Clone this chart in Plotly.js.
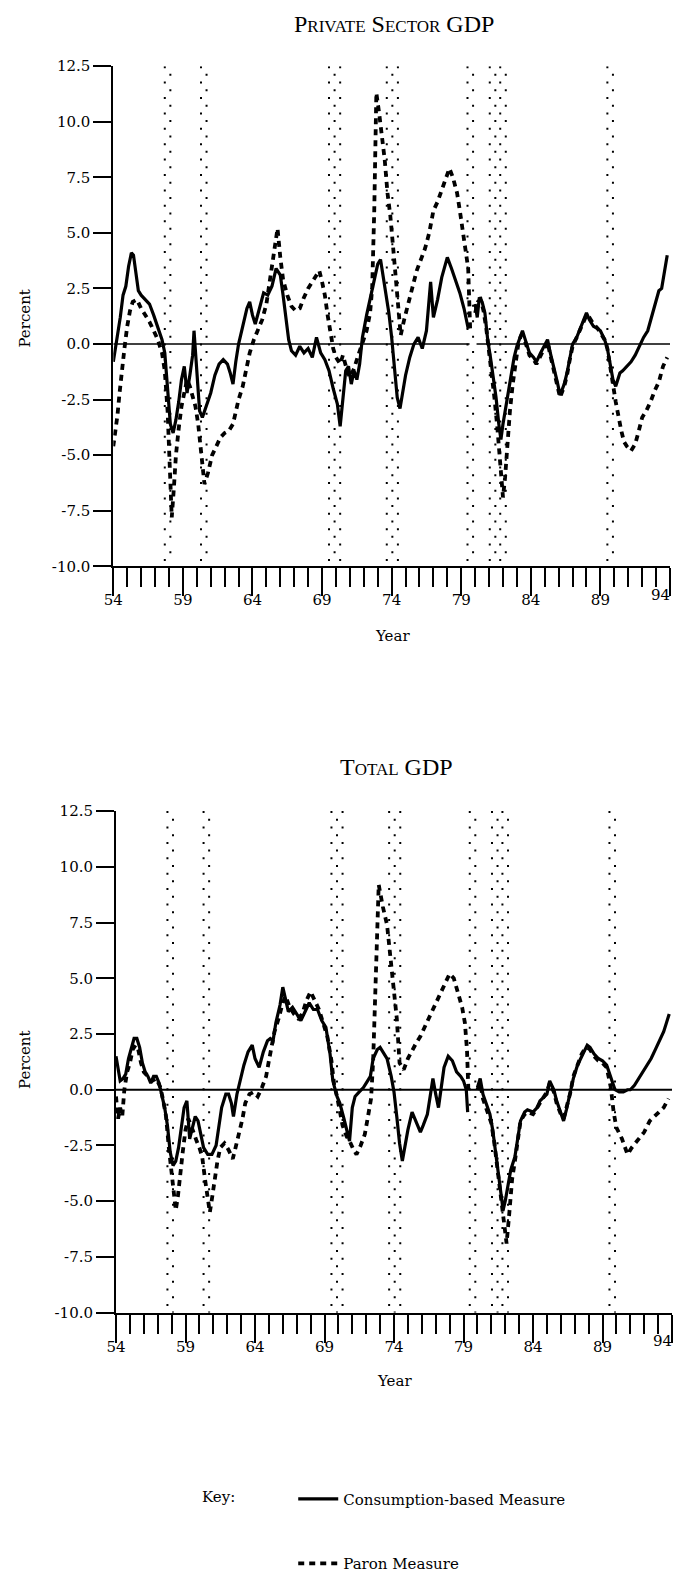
<!DOCTYPE html>
<html>
<head>
<meta charset="utf-8">
<script src="https://cdn.plot.ly/plotly-3.0.1.min.js"></script>
<style>html,body{margin:0;padding:0;background:#fff;}#chart{width:675px;height:1580px;}</style>
</head>
<body>
<div id="chart"></div>
<script>
// ---------- DATA ----------
// Private Sector GDP: consumption-based measure
const privConsX = [54.0,54.15,54.3,54.5,54.7,54.9,55.1,55.3,55.45,55.6,55.8,56.0,56.3,56.6,56.9,57.2,57.5,57.7,57.9,58.1,58.3,58.5,58.7,58.9,59.1,59.3,59.5,59.7,59.8,60.0,60.2,60.4,60.7,61.0,61.3,61.6,61.9,62.2,62.4,62.6,62.8,63.0,63.3,63.6,63.8,64.0,64.2,64.5,64.8,65.1,65.4,65.7,66.0,66.2,66.4,66.6,66.8,67.1,67.4,67.7,68.0,68.3,68.6,68.9,69.2,69.5,69.8,70.1,70.3,70.5,70.7,70.9,71.1,71.3,71.5,71.7,71.9,72.2,72.5,72.8,73.0,73.2,73.4,73.6,73.8,74.0,74.2,74.4,74.6,74.8,75.0,75.3,75.6,75.9,76.2,76.5,76.8,77.0,77.3,77.6,78.0,78.3,78.6,78.9,79.2,79.5,79.8,80.0,80.15,80.3,80.5,80.7,80.9,81.1,81.3,81.5,81.7,81.85,82.0,82.2,82.4,82.6,82.8,83.0,83.2,83.4,83.6,83.9,84.2,84.4,84.7,85.0,85.2,85.4,85.6,85.9,86.1,86.4,86.6,86.8,87.0,87.3,87.5,87.8,88.0,88.2,88.5,88.8,89.0,89.3,89.5,89.7,89.9,90.1,90.4,90.6,90.9,91.2,91.5,91.8,92.1,92.4,92.7,92.9,93.2,93.4,93.6,93.8];
const privConsY = [-0.8,-0.2,0.3,1.2,2.2,2.6,3.5,4.1,4.0,3.2,2.4,2.2,2.0,1.8,1.3,0.8,0.2,-0.4,-2.0,-3.6,-4.0,-3.4,-2.6,-1.6,-1.0,-2.2,-1.4,-0.5,0.6,-1.2,-3.0,-3.3,-2.8,-2.2,-1.4,-0.9,-0.7,-0.9,-1.3,-1.8,-0.8,0.0,0.8,1.6,1.9,1.3,0.9,1.6,2.3,2.2,2.6,3.4,3.1,2.2,1.2,0.2,-0.3,-0.5,-0.1,-0.4,-0.2,-0.6,0.3,-0.4,-0.7,-1.2,-2.0,-2.7,-3.7,-2.4,-1.2,-1.0,-1.8,-1.2,-1.6,-0.9,0.3,1.3,2.2,3.0,3.6,3.8,3.0,2.3,1.4,0.3,-1.2,-2.4,-2.9,-2.2,-1.4,-0.6,0.0,0.3,-0.2,0.6,2.8,1.2,2.0,3.0,3.9,3.4,2.9,2.3,1.6,0.7,null,1.8,1.2,2.1,1.9,1.4,0.2,-0.6,-1.5,-2.4,-3.6,-4.3,-3.6,-2.8,-2.0,-1.2,-0.6,-0.1,0.3,0.6,0.2,-0.4,-0.6,-0.8,-0.4,0.0,0.2,-0.4,-0.9,-1.7,-2.3,-1.8,-1.3,-0.6,0.0,0.3,0.6,1.1,1.4,1.1,0.8,0.7,0.6,0.2,-0.2,-0.9,-1.6,-1.9,-1.3,-1.2,-1.0,-0.8,-0.5,-0.1,0.3,0.6,1.3,1.8,2.4,2.5,3.2,4.0];

// Private Sector GDP: Paron measure
const privParonX = [54.0,54.15,54.3,54.45,54.6,54.8,55.0,55.2,55.4,55.7,56.0,56.3,56.6,56.9,57.2,57.5,57.7,57.9,58.05,58.2,58.35,58.5,58.7,58.9,59.1,59.3,59.5,59.7,59.9,60.1,60.3,60.55,60.8,61.1,61.4,61.7,62.0,62.3,62.6,62.8,63.0,63.3,63.6,63.8,64.1,64.4,64.7,65.0,65.2,65.4,65.6,65.8,66.0,66.2,66.5,66.8,67.1,67.4,67.7,68.0,68.3,68.6,68.8,69.0,69.2,69.4,69.6,69.8,70.0,70.3,70.5,70.8,71.0,71.3,71.6,71.9,72.2,72.45,72.6,72.75,72.9,73.1,73.3,73.5,73.7,73.9,74.1,74.3,74.5,74.65,74.9,75.2,75.5,75.8,76.1,76.4,76.7,77.0,77.3,77.6,77.9,78.15,78.4,78.7,78.9,79.1,79.3,79.5,79.65,79.8,80.0,80.2,80.4,80.6,80.8,81.0,81.2,81.4,81.6,81.8,82.0,82.15,82.3,82.5,82.7,82.9,83.1,83.3,83.6,83.9,84.2,84.4,84.7,85.0,85.2,85.4,85.6,85.9,86.1,86.4,86.6,86.8,87.0,87.3,87.5,87.8,88.0,88.2,88.5,88.8,89.0,89.3,89.5,89.7,89.9,90.1,90.3,90.5,90.7,90.9,91.2,91.5,91.8,92.0,92.3,92.6,92.9,93.2,93.5,93.8];
const privParonY = [-4.6,-4.0,-3.2,-2.2,-1.2,-0.2,0.8,1.5,1.9,2.0,1.6,1.3,1.0,0.6,0.2,-0.4,-1.2,-3.0,-5.0,-7.8,-6.5,-5.0,-3.8,-2.8,-2.2,-1.6,-1.9,-2.4,-2.8,-3.6,-5.0,-6.3,-5.8,-5.0,-4.6,-4.2,-4.0,-3.9,-3.6,-3.0,-2.5,-1.9,-0.9,-0.4,0.2,0.7,1.1,1.8,2.7,3.5,4.4,5.2,3.9,2.9,2.2,1.7,1.5,1.6,2.1,2.5,2.8,3.1,3.3,2.8,2.2,1.3,0.5,-0.2,-0.6,-0.9,-0.5,-1.2,-1.5,-1.1,-0.5,0.0,0.6,1.4,2.5,6.0,11.3,10.4,9.3,8.3,6.8,5.8,4.4,2.8,1.5,0.4,1.1,1.8,2.6,3.3,3.8,4.3,5.0,6.0,6.4,6.9,7.5,7.9,7.5,6.8,6.0,5.1,4.3,3.4,0.5,null,1.4,1.9,2.0,1.5,0.7,-0.3,-1.3,-2.5,-3.8,-5.2,-6.9,-6.0,-4.5,-3.0,-1.8,-0.8,0.0,0.4,0.1,-0.5,-0.7,-0.9,-0.5,-0.1,0.1,-0.5,-1.0,-1.8,-2.4,-1.9,-1.4,-0.7,-0.1,0.3,0.6,1.0,1.3,1.2,0.9,0.7,0.5,0.2,-0.2,-0.9,-1.8,-2.6,-3.3,-3.9,-4.4,-4.6,-4.8,-4.5,-3.8,-3.3,-3.0,-2.6,-2.1,-1.7,-1.0,-0.6];

// Total GDP: consumption-based measure
const totConsX = [54.0,54.15,54.3,54.5,54.7,54.9,55.1,55.3,55.5,55.7,55.9,56.1,56.3,56.5,56.7,56.9,57.1,57.3,57.5,57.7,57.9,58.1,58.3,58.5,58.7,58.9,59.1,59.3,59.5,59.7,59.9,60.1,60.3,60.6,60.9,61.2,61.4,61.6,61.9,62.1,62.3,62.45,62.7,63.0,63.2,63.5,63.8,64.0,64.3,64.6,64.9,65.1,65.3,65.5,65.8,66.0,66.2,66.4,66.7,67.0,67.3,67.6,67.9,68.2,68.5,68.8,69.1,69.4,69.6,69.9,70.1,70.4,70.6,70.8,71.0,71.2,71.5,71.8,72.0,72.3,72.5,72.8,73.0,73.2,73.5,73.8,74.0,74.2,74.4,74.6,74.8,75.0,75.3,75.5,75.7,75.9,76.1,76.4,76.6,76.8,77.0,77.2,77.4,77.6,77.9,78.2,78.5,78.8,79.0,79.2,79.3,79.6,80.0,80.2,80.4,80.6,80.9,81.1,81.3,81.5,81.7,81.85,82.0,82.2,82.4,82.7,82.9,83.1,83.4,83.6,84.0,84.3,84.5,84.8,85.0,85.2,85.5,85.7,86.0,86.2,86.4,86.7,86.9,87.2,87.5,87.7,87.9,88.1,88.4,88.7,89.0,89.3,89.6,89.9,90.2,90.5,90.8,91.0,91.3,91.6,91.9,92.2,92.5,92.8,93.1,93.4,93.6,93.8];
const totConsY = [1.5,0.9,0.4,0.5,0.7,1.4,1.9,2.3,2.3,1.9,1.2,0.8,0.6,0.3,0.6,0.6,0.3,-0.2,-0.8,-1.6,-2.8,-3.4,-3.2,-2.6,-1.6,-0.8,-0.5,-2.2,-1.7,-1.2,-1.4,-2.0,-2.6,-2.9,-2.9,-2.5,-1.6,-0.8,-0.2,-0.2,-0.6,-1.2,-0.2,0.6,1.1,1.7,2.0,1.4,1.0,1.7,2.2,2.3,2.2,3.0,3.8,4.6,4.0,3.5,3.7,3.4,3.1,3.5,3.9,3.6,3.6,3.1,2.8,1.6,0.4,-0.3,-0.6,-1.3,-1.8,-2.3,-0.8,-0.3,-0.1,0.1,0.3,0.6,1.4,1.8,1.9,1.7,1.4,0.6,-0.1,-1.2,-2.4,-3.2,-2.4,-1.8,-1.0,-1.3,-1.6,-1.9,-1.6,-1.1,-0.3,0.5,-0.2,-0.8,0.1,1.0,1.5,1.3,0.8,0.6,0.4,0.0,-1.0,null,0.1,0.5,-0.2,-0.6,-1.1,-1.8,-2.8,-3.6,-4.8,-5.4,-5.0,-4.3,-3.6,-3.0,-2.2,-1.4,-1.0,-0.9,-1.0,-0.8,-0.5,-0.3,-0.2,0.4,0.0,-0.5,-1.0,-1.4,-0.9,-0.1,0.5,1.1,1.5,1.8,2.0,1.9,1.6,1.4,1.3,1.1,0.5,0.0,-0.1,-0.1,0.0,0.0,0.2,0.5,0.8,1.1,1.4,1.8,2.2,2.6,3.0,3.4];

// Total GDP: Paron measure
const totParonX = [54.0,54.15,54.3,54.45,54.6,54.8,55.0,55.2,55.4,55.6,55.8,56.0,56.3,56.6,56.9,57.2,57.4,57.6,57.8,58.0,58.15,58.3,58.45,58.6,58.8,59.0,59.2,59.4,59.6,59.8,60.0,60.2,60.4,60.6,60.75,60.9,61.1,61.3,61.5,61.8,62.1,62.4,62.6,62.9,63.1,63.3,63.6,63.9,64.2,64.5,64.8,65.0,65.2,65.4,65.7,66.0,66.2,66.5,66.8,67.1,67.4,67.7,68.0,68.3,68.6,68.9,69.2,69.5,69.7,69.9,70.1,70.3,70.6,70.8,71.1,71.3,71.6,71.9,72.1,72.35,72.5,72.6,72.75,72.9,73.2,73.5,73.7,73.9,74.2,74.4,74.7,75.0,75.3,75.6,75.9,76.2,76.5,76.8,77.1,77.4,77.7,78.0,78.3,78.6,78.9,79.1,79.25,79.35,79.6,80.0,80.2,80.4,80.7,81.0,81.2,81.4,81.6,81.8,82.0,82.1,82.3,82.5,82.7,82.9,83.1,83.4,83.6,84.0,84.3,84.5,84.8,85.0,85.2,85.5,85.7,86.0,86.2,86.4,86.7,86.9,87.2,87.5,87.7,87.9,88.1,88.4,88.7,89.0,89.3,89.6,89.8,90.0,90.4,90.8,91.1,91.5,92.0,92.4,92.9,93.4,93.75];
const totParonY = [-0.3,-1.3,-0.8,-1.2,0.0,0.8,1.2,1.8,2.0,1.8,1.2,0.8,0.6,0.4,0.5,0.1,-0.5,-1.2,-2.6,-3.8,-4.6,-5.4,-4.8,-3.8,-2.8,-1.8,-1.3,-1.6,-2.0,-2.3,-2.6,-3.0,-4.0,-5.0,-5.5,-4.9,-4.0,-3.2,-2.6,-2.4,-2.7,-3.1,-2.6,-1.9,-1.3,-0.6,-0.2,-0.1,-0.3,0.1,0.6,1.3,2.0,2.6,3.2,3.9,4.2,3.7,3.4,3.2,3.4,4.0,4.4,4.0,3.6,3.0,2.4,1.3,0.2,-0.3,-0.9,-1.6,-2.1,-2.3,-2.7,-2.9,-2.5,-2.0,-1.3,-0.4,1.3,3.5,5.8,9.2,8.2,7.4,6.2,5.0,3.2,1.2,0.9,1.4,1.8,2.1,2.4,2.8,3.2,3.5,3.9,4.3,4.8,5.2,5.0,4.4,3.7,3.0,1.8,0.0,null,0.0,0.3,-0.4,-0.9,-1.5,-2.3,-3.3,-4.4,-5.6,-6.6,-6.9,-5.5,-4.0,-3.2,-2.2,-1.4,-1.1,-1.0,-1.1,-0.8,-0.6,-0.3,-0.1,0.3,-0.1,-0.6,-1.1,-1.3,-0.8,-0.1,0.6,1.1,1.6,1.8,1.9,1.8,1.5,1.3,1.2,1.0,0.1,-1.0,-1.7,-2.2,-2.9,-2.6,-2.3,-1.9,-1.4,-1.1,-0.8,-0.4];

// Recession marker columns (years), grouped
const recessionGroups = [[57.7,58.1],[60.3,60.7],[69.5,69.9,70.3],[73.65,74.05,74.45],[79.45,79.85],[81.05,81.45,81.8,82.2],[89.5,89.9]];
// Break in the zero line of the top panel (years)
const zeroBreak = [79.6, 80.1];

// Tick labels
const yTickVals = [-10,-7.5,-5,-2.5,0,2.5,5,7.5,10,12.5];
const yTickText = ['-10.0','-7.5','-5.0','-2.5','0.0','2.5','5.0','7.5','10.0','12.5'];
const xTickVals = [54,59,64,69,74,79,84,89,94];
const xTickText = ['54','59','64','69','74','79','84','89','94'];

const panelTitles = ['Private Sector GDP','Total GDP'];
const seriesNames = ['Consumption-based Measure','Paron Measure'];

// ---------- LAYOUT HELPERS ----------
const W = 675, H = 1580;
const px = v => v / W;
const py = v => 1 - v / H;
const Y_MIN = -10, Y_MAX = 12.5, X_MIN = 54, X_MAX = 94;

const tickFont = {family: 'DejaVu Serif', size: 15, color: '#000'};
const labelFont = {family: 'DejaVu Serif', size: 15, color: '#000'};

// the last x label sits at the page edge: it is drawn right-aligned to its tick
const lastX = xTickVals.length - 1;
const xAxisText = xTickText.map((t, i) => (i === lastX ? '' : t));

function xAxis(domain, anchor) {
  return {
    domain: domain, anchor: anchor, range: [X_MIN, X_MAX],
    showgrid: false, zeroline: false, showline: true, linewidth: 2, linecolor: '#000',
    ticks: 'outside', ticklen: 28, tickwidth: 2, tickcolor: '#000',
    tickvals: xTickVals, ticktext: xAxisText, tickfont: tickFont,
    ticklabelstandoff: -9,
    minor: {dtick: 1, tick0: 54, ticks: 'outside', ticklen: 19, tickwidth: 2, tickcolor: '#000', showgrid: false},
    fixedrange: true
  };
}
function yAxis(domain, anchor) {
  return {
    domain: domain, anchor: anchor, range: [Y_MIN, Y_MAX],
    showgrid: false, zeroline: false, showline: true, linewidth: 2, linecolor: '#000',
    ticks: 'outside', ticklen: 18, tickwidth: 2, tickcolor: '#000',
    tickvals: yTickVals, ticktext: yTickText, tickfont: tickFont,
    ticklabeloverflow: 'allow',
    fixedrange: true
  };
}

const traces = [
  {x: privConsX, y: privConsY, xaxis: 'x', yaxis: 'y', mode: 'lines', name: seriesNames[0], legendgroup: 'c',
   line: {color: '#000', width: 3.2}, connectgaps: false},
  {x: privParonX, y: privParonY, xaxis: 'x', yaxis: 'y', mode: 'lines', name: seriesNames[1], legendgroup: 'p',
   line: {color: '#000', width: 3.8, dash: '6px,5px'}, connectgaps: false},
  {x: totConsX, y: totConsY, xaxis: 'x2', yaxis: 'y2', mode: 'lines', name: seriesNames[0], showlegend: false,
   line: {color: '#000', width: 3.2}, connectgaps: false},
  {x: totParonX, y: totParonY, xaxis: 'x2', yaxis: 'y2', mode: 'lines', name: seriesNames[1], showlegend: false,
   line: {color: '#000', width: 3.8, dash: '6px,5px'}, connectgaps: false}
];

// Shapes: recession dotted columns and zero lines
const shapes = [];
const dotPhase = 0.344; // half dot period in data units
[['x','y'],['x2','y2']].forEach(([xr, yr]) => {
  recessionGroups.forEach(g => {
    g.forEach((yr0, i) => {
      shapes.push({type: 'line', xref: xr, yref: yr, x0: yr0, x1: yr0,
        y0: Y_MAX - (i % 2) * dotPhase, y1: Y_MIN,
        line: {color: '#000', width: 2, dash: '2px,13.4px'}, layer: 'below'});
    });
  });
});
shapes.push({type: 'line', xref: 'x', yref: 'y', x0: X_MIN, x1: zeroBreak[0], y0: 0, y1: 0, line: {color: '#000', width: 1.5}});
shapes.push({type: 'line', xref: 'x', yref: 'y', x0: zeroBreak[1], x1: X_MAX, y0: 0, y1: 0, line: {color: '#000', width: 1.5}});
shapes.push({type: 'line', xref: 'x2', yref: 'y2', x0: X_MIN, x1: X_MAX, y0: 0, y1: 0, line: {color: '#000', width: 2}});

const annotations = [
  {text: panelTitles[0], xref: 'paper', yref: 'paper', x: px(394), y: py(24), xanchor: 'center', yanchor: 'middle', showarrow: false,
   font: {family: 'Liberation Serif', size: 24, color: '#000', variant: 'small-caps'}},
  {text: panelTitles[1], xref: 'paper', yref: 'paper', x: px(396), y: py(773), xanchor: 'center', yanchor: 'middle', showarrow: false,
   font: {family: 'Liberation Serif', size: 24, color: '#000', variant: 'small-caps'}},
  {text: 'Percent', xref: 'paper', yref: 'paper', x: px(25), y: py(321), textangle: -90, xanchor: 'center', yanchor: 'middle', showarrow: false, font: labelFont},
  {text: 'Percent', xref: 'paper', yref: 'paper', x: px(25), y: py(1068), textangle: -90, xanchor: 'center', yanchor: 'middle', showarrow: false, font: labelFont},
  {text: 'Year', xref: 'paper', yref: 'paper', x: px(392), y: py(641), xanchor: 'center', yanchor: 'middle', showarrow: false, font: labelFont},
  {text: 'Year', xref: 'paper', yref: 'paper', x: px(394), y: py(1392), xanchor: 'center', yanchor: 'middle', showarrow: false, font: labelFont},
  // last x tick label of each panel, right-aligned at its tick
  {text: xTickText[lastX], xref: 'x', yref: 'paper', x: xTickVals[lastX], y: py(600), xanchor: 'right', yanchor: 'middle', xshift: 2, showarrow: false, font: tickFont},
  {text: xTickText[lastX], xref: 'x2', yref: 'paper', x: xTickVals[lastX], y: py(1351), xanchor: 'right', yanchor: 'middle', xshift: 2, showarrow: false, font: tickFont}
];

const layout = {
  width: W, height: H,
  margin: {l: 0, r: 0, t: 0, b: 0, pad: 0},
  paper_bgcolor: '#fff', plot_bgcolor: '#fff',
  showlegend: true,
  legend: {
    x: px(200), xanchor: 'left', y: py(1494), yanchor: 'top',
    orientation: 'v', traceorder: 'grouped', tracegroupgap: 42,
    title: {text: 'Key:', side: 'left', font: labelFont},
    font: labelFont, bgcolor: 'rgba(0,0,0,0)', borderwidth: 0,
    indentation: 50, itemwidth: 40
  },
  xaxis: xAxis([px(113.3), px(670)], 'y'),
  yaxis: yAxis([py(570.7), py(66.7)], 'x'),
  xaxis2: xAxis([px(116), px(672)], 'y2'),
  yaxis2: yAxis([py(1322.7), py(817.3)], 'x2'),
  shapes: shapes,
  annotations: annotations
};

Plotly.newPlot('chart', traces, layout, {staticPlot: true, displayModeBar: false});
</script>
</body>
</html>
